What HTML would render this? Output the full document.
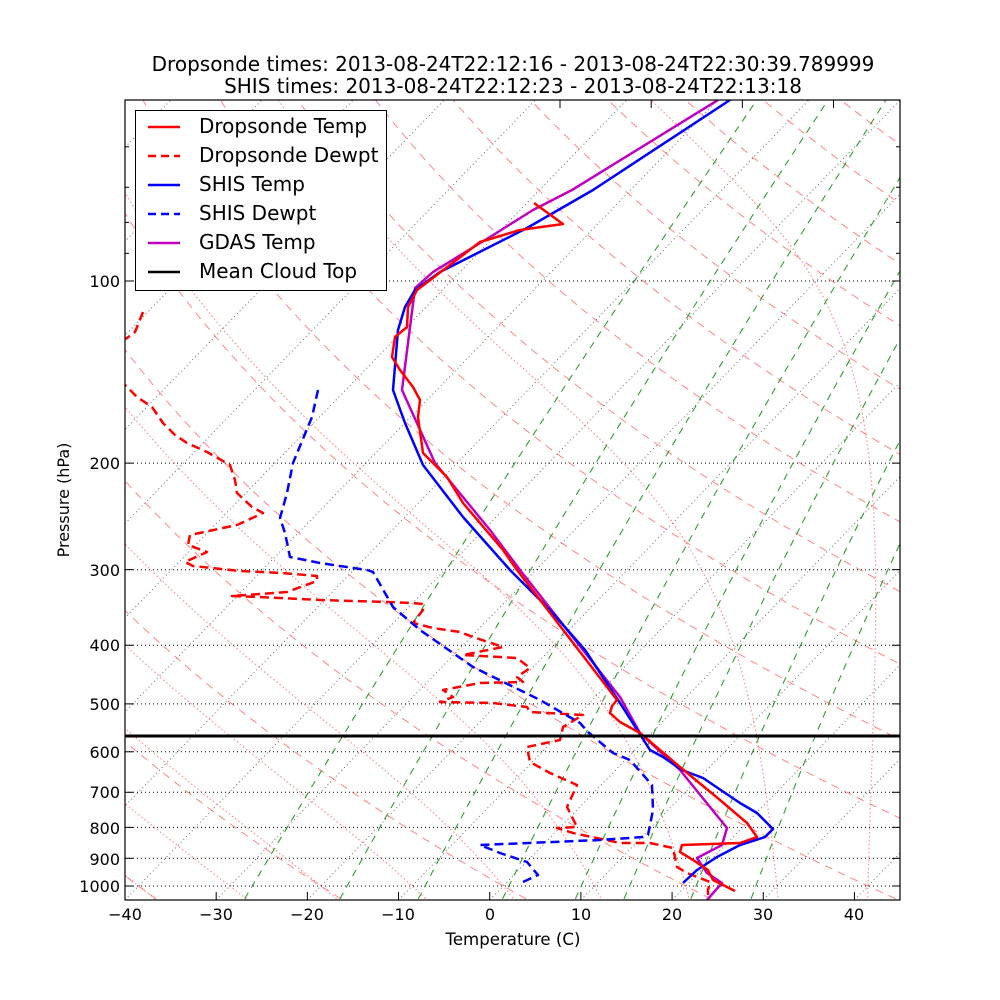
<!DOCTYPE html>
<html><head><meta charset="utf-8"><style>
html,body{margin:0;padding:0;background:#fff;}
svg{display:block;font-family:"DejaVu Sans","Liberation Sans",sans-serif;}
</style></head><body>
<svg id="s" width="1000" height="1000" viewBox="0 0 1000 1000" xmlns="http://www.w3.org/2000/svg">
<defs><clipPath id="c"><rect x="125" y="100" width="775" height="800"/></clipPath></defs>
<rect width="1000" height="1000" fill="#fff"/>
<g id="bg" clip-path="url(#c)"></g>
<g id="data" clip-path="url(#c)" fill="none" stroke-width="2.5" stroke-linejoin="round">
<polyline stroke="#ff0000" stroke-dasharray="9,5" points="143,312 135,332 127,338 120,342"/>
<polyline stroke="#ff0000" stroke-dasharray="9,5" points="120,380 127,387 137,397 152,407 163,423 175,435 187,443 207,452 230,465 235,480 237,493 252,507 263,513 237,525 190,535 188,545 207,552 185,562 193,566 240,571 282,573 317,576 317,581 287,592 232,596 260,597 320,600 387,602 413,603 423,604 423,610 413,623 433,628 460,632 473,637 503,647 463,655 517,658 530,668 517,677 523,682 480,683 443,690 453,697 440,702 493,703 527,707 530,712 583,715 563,727 560,740 527,747 530,762 550,773 577,785 567,807 577,827 557,828 573,833 620,843 650,843 673,848 677,867 687,873 710,882 708,890 708,897"/>
<polyline stroke="#0000ff" stroke-dasharray="9,5" points="318,390 312,417 293,463 287,493 280,518 285,533 290,557 320,563 367,570 373,572 393,607 420,630 473,667 540,700 580,723 588,732 613,753 630,760 652,785 653,810 648,835 643,837 600,840 480,845 500,853 527,862 538,875 523,882"/>
<polyline stroke="#bf00bf" points="718,100 572,190 533,210 490,237 433,272 415,288 402,390 435,463 490,530 520,570 620,697 640,733 680,770 727,828 722,845 697,858 707,873 722,883 707,900"/>
<polyline stroke="#0000ff" points="730,100 593,190 527,228 440,272 415,290 405,307 398,330 393,390 405,423 423,465 463,517 510,570 550,610 585,650 620,703 650,750 663,757 682,770 703,778 740,803 757,813 773,829 765,837 740,845 717,857 697,870 683,883"/>
<polyline stroke="#ff0000" points="534,203 563,224 520,230 480,242 450,265 417,290 408,307 407,327 395,337 392,357 400,370 413,387 420,400 418,417 423,453 447,477 463,503 503,550 517,570 617,700 612,706 610,713 620,722 640,733 680,767 720,800 747,823 757,837 740,843 682,845 680,852 693,860 708,870 713,880 735,891"/>
</g>
<line x1="125" y1="736" x2="900" y2="736" stroke="#000" stroke-width="3"/>
<rect x="125" y="100" width="775" height="800" fill="none" stroke="#000" stroke-width="1.2"/>
<g id="ticks" stroke="#000" stroke-width="1"></g>
<g font-size="16" fill="#000" text-anchor="end">
<text x="120" y="287">100</text><text x="120" y="469">200</text><text x="120" y="576">300</text><text x="120" y="651">400</text><text x="120" y="710">500</text><text x="120" y="758">600</text><text x="120" y="798">700</text><text x="120" y="834">800</text><text x="120" y="865">900</text><text x="120" y="892">1000</text>
</g>
<g font-size="16" fill="#000" text-anchor="middle">
<text x="125" y="920">−40</text><text x="216" y="920">−30</text><text x="307" y="920">−20</text><text x="398" y="920">−10</text><text x="490" y="920">0</text><text x="581" y="920">10</text><text x="672" y="920">20</text><text x="763" y="920">30</text><text x="854" y="920">40</text>
<text x="513" y="945" font-size="16.6">Temperature (C)</text>
<text transform="translate(69,500) rotate(-90)">Pressure (hPa)</text>
</g>
<g font-size="20" fill="#000" text-anchor="middle">
<text x="513" y="71">Dropsonde times: 2013-08-24T22:12:16 - 2013-08-24T22:30:39.789999</text>
<text x="513" y="93">SHIS times: 2013-08-24T22:12:23 - 2013-08-24T22:13:18</text>
</g>
<g>
<rect x="135.5" y="110.5" width="251" height="180" fill="#fff" stroke="#000" stroke-width="1"/>
<g stroke-width="2.5">
<line x1="148" y1="127" x2="180" y2="127" stroke="#f00"/>
<line x1="148" y1="156" x2="180" y2="156" stroke="#f00" stroke-dasharray="8,5"/>
<line x1="148" y1="185" x2="180" y2="185" stroke="#00f"/>
<line x1="148" y1="214" x2="180" y2="214" stroke="#00f" stroke-dasharray="8,5"/>
<line x1="148" y1="243" x2="180" y2="243" stroke="#bf00bf"/>
<line x1="148" y1="272" x2="180" y2="272" stroke="#000"/>
</g>
<g font-size="20" fill="#000">
<text x="199" y="133">Dropsonde Temp</text>
<text x="199" y="162">Dropsonde Dewpt</text>
<text x="199" y="191">SHIS Temp</text>
<text x="199" y="220">SHIS Dewpt</text>
<text x="199" y="249">GDAS Temp</text>
<text x="199" y="278">Mean Cloud Top</text>
</g>
</g>
</svg>
<script>
(function(){
var NS="http://www.w3.org/2000/svg";
var bg=document.getElementById("bg"), tk=document.getElementById("ticks");
function Y(p){return 281+605*Math.log10(p/100);}
function X(T,y){return 125+(T+40)*9.118+(900-y)*0.969;}
function path(pts,stroke,dash,w,op){var d="";pts.forEach(function(q,i){d+=(i?"L":"M")+q[0].toFixed(1)+","+q[1].toFixed(1);});
 var e=document.createElementNS(NS,"path");e.setAttribute("d",d);e.setAttribute("fill","none");e.setAttribute("stroke",stroke);
 if(dash)e.setAttribute("stroke-dasharray",dash);e.setAttribute("stroke-width",w||1);if(op)e.setAttribute("stroke-opacity",op);bg.appendChild(e);}
var ps=[];for(var p=1050;p>=48;p*=0.98)ps.push(p);ps.push(48);
[100,200,300,400,500,600,700,800,900,1000].forEach(function(p){path([[125,Y(p)],[900,Y(p)]],"#000","1,3",1);});
for(var T=-150;T<=50;T+=10){path([[X(T,900),900],[X(T,100),100]],"#000","1,3",1,0.6);}
for(var th=-120;th<=260;th+=20){var pts=ps.map(function(p){var t=(th+273.15)*Math.pow(p/1000,0.286)-273.15;var y=Y(p);return [X(t,y),y];});path(pts,"#ff7070","8,6",1,0.85);}
function es(Tc){return 6.112*Math.exp(17.67*Tc/(Tc+243.5));}
function dTdp(p,T){var Tc=T-273.15,e=es(Tc),rs=0.622*e/(p-e);var Rd=287.04,Cp=1005.7,Lv=2.501e6;
 return (Rd*T+Lv*rs)/(Cp+Lv*Lv*rs*0.622/(Rd*T*T))/p;}
function integ(T0,p0,p1,n){var out=[],p=p0,T=T0,h=(p1-p0)/n;out.push([p,T]);for(var i=0;i<n;i++){
 var k1=dTdp(p,T),k2=dTdp(p+h/2,T+h/2*k1),k3=dTdp(p+h/2,T+h/2*k2),k4=dTdp(p+h,T+h*k3);T+=h/6*(k1+2*k2+2*k3+k4);p+=h;out.push([p,T]);}return out;}
for(var t0=-60;t0<=40;t0+=10){var a=integ(t0+273.15,1000,48,300),b=integ(t0+273.15,1000,1060,10);
 var all=b.reverse().concat(a);var pts=all.map(function(q){var y=Y(q[0]);return [X(q[1]-273.15,y),y];});path(pts,"#ff7070","1.5,2.5",1.2,0.8);}
[0.0004,0.001,0.002,0.004,0.007,0.01,0.016,0.024].forEach(function(w){var pts=ps.map(function(p){var e=w*p/(0.622+w);var l=Math.log(e/6.112);var Td=243.5*l/(17.67-l);var y=Y(p);return [X(Td,y),y];});path(pts,"#1f8f1f","7,6",1.1,0.9);});
function ln(x1,y1,x2,y2){var e=document.createElementNS(NS,"line");e.setAttribute("x1",x1);e.setAttribute("y1",y1);e.setAttribute("x2",x2);e.setAttribute("y2",y2);tk.appendChild(e);}
[100,200,300,400,500,600,700,800,900,1000].forEach(function(p){var y=Y(p);ln(125,y,133,y);ln(900,y,892,y);});
[60,70,80,90].forEach(function(p){var y=Y(p);ln(125,y,129,y);ln(900,y,896,y);});
for(var i=0;i<9;i++){var x=125+i*91.18;ln(x,900,x,892);}
for(var i=0;i<4;i++){var x=560+i*91.18;ln(x,100,x,108);}
})();
</script>
</body></html>
